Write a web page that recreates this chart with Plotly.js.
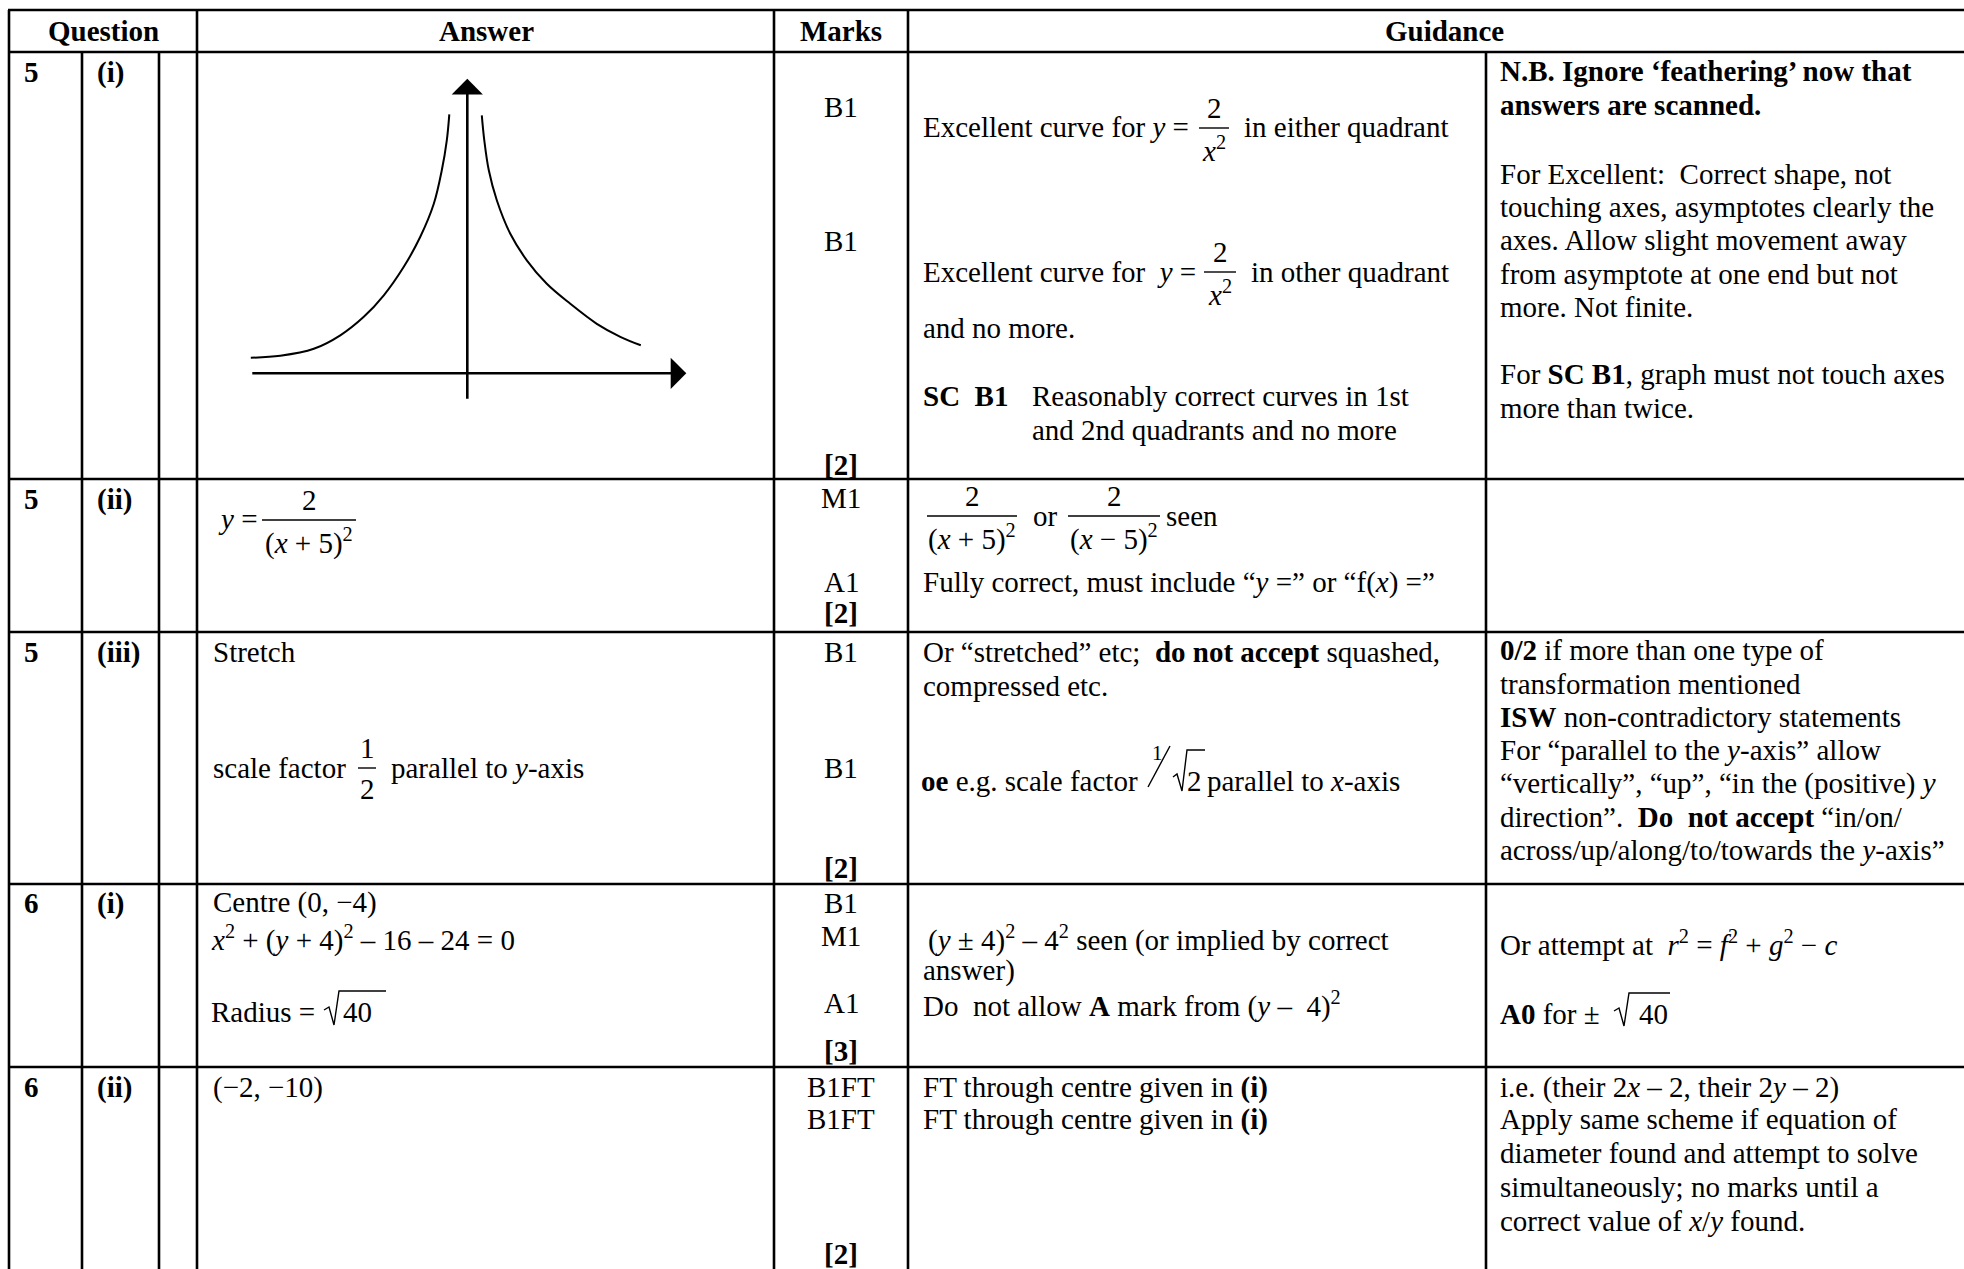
<!DOCTYPE html>
<html>
<head>
<meta charset="utf-8">
<script src="https://cdn.plot.ly/plotly-3.0.1.min.js"></script>
<style>html,body{margin:0;padding:0;background:#fff;}#chart{width:1964px;height:1269px;}</style>
</head>
<body>
<div id="chart"></div>
<script>
// ---------------- DATA ----------------
const headerLabels = ['Question', 'Answer', 'Marks', 'Guidance'];
const questionNums = ['5', '5', '5', '6', '6'];
const partLabels = ['(i)', '(ii)', '(iii)', '(i)', '(ii)'];
const marksByRow = [
  ['B1', 'B1', '[2]'],
  ['M1', 'A1', '[2]'],
  ['B1', 'B1', '[2]'],
  ['B1', 'M1', 'A1', '[3]'],
  ['B1FT', 'B1FT', '[2]']
];
const answerTexts = [
  '<i>y</i> =',
  'Stretch',
  'scale factor',
  'parallel to <i>y</i>-axis',
  'Centre (0, −4)',
  '<i>x</i><sup>2</sup> + (<i>y</i> + 4)<sup>2</sup> – 16 – 24 = 0',
  'Radius =',
  '40',
  '(−2, −10)'
];
const guidanceTexts = [
  'Excellent curve for <i>y</i> =',
  'in either quadrant',
  'Excellent curve for\u00a0 <i>y</i> =',
  'in other quadrant',
  'and no more.',
  '<b>SC\u00a0 B1</b>',
  'Reasonably correct curves in 1st',
  'and 2nd quadrants and no more',
  'or',
  'seen',
  'Fully correct, must include “<i>y</i> =” or “f(<i>x</i>) =”',
  'Or “stretched” etc;\u00a0 <b>do not accept</b> squashed,',
  'compressed etc.',
  '<b>oe</b> e.g. scale factor',
  '2',
  'parallel to <i>x</i>-axis',
  '(<i>y</i> ± 4)<sup>2</sup> – 4<sup>2</sup> seen (or implied by correct',
  'answer)',
  'Do\u00a0 not allow <b>A</b> mark from (<i>y</i> –\u00a0 4)<sup>2</sup>',
  'FT through centre given in <b>(i)</b>',
  'FT through centre given in <b>(i)</b>'
];
const noteTexts = [
  '<b>N.B. Ignore ‘feathering’ now that</b>',
  '<b>answers are scanned.</b>',
  'For Excellent:\u00a0 Correct shape, not',
  'touching axes, asymptotes clearly the',
  'axes. Allow slight movement away',
  'from asymptote at one end but not',
  'more. Not finite.',
  'For <b>SC B1</b>, graph must not touch axes',
  'more than twice.',
  '<b>0/2</b> if more than one type of',
  'transformation mentioned',
  '<b>ISW</b> non-contradictory statements',
  'For “parallel to the <i>y</i>-axis” allow',
  '“vertically”, “up”, “in the (positive) <i>y</i>',
  'direction”.\u00a0 <b>Do\u00a0 not accept</b> “in/on/',
  'across/up/along/to/towards the <i>y</i>-axis”',
  'Or attempt at\u00a0 <i>r</i><sup>2</sup> = <i>f</i><sup>2</sup> + <i>g</i><sup>2</sup> − <i>c</i>',
  '<b>A0</b> for ±',
  '40',
  'i.e. (their 2<i>x</i> – 2, their 2<i>y</i> – 2)',
  'Apply same scheme if equation of',
  'diameter found and attempt to solve',
  'simultaneously; no marks until a',
  'correct value of <i>x</i>/<i>y</i> found.'
];
const fracNums = ['2', '2', '2', '2', '2', '1'];
const fracDens = ['<i>x</i><sup>2</sup>', '<i>x</i><sup>2</sup>', '(<i>x</i> + 5)<sup>2</sup>',
                  '(<i>x</i> + 5)<sup>2</sup>', '(<i>x</i> − 5)<sup>2</sup>', '2'];
const slashNum = '1';

// sketch of y = 2/x^2 (sketch units)
const curveLeftX  = [-4.33, -3.74, -3.07, -2.54, -2.07, -1.67, -1.27, -0.94, -0.67, -0.51, -0.41, -0.36];
const curveLeftY  = [0.31, 0.35, 0.49, 0.76, 1.13, 1.56, 2.13, 2.73, 3.39, 4.06, 4.66, 5.18];
const curveRightX = [0.29, 0.34, 0.43, 0.59, 0.86, 1.19, 1.59, 2.06, 2.59, 3.06, 3.47];
const curveRightY = [5.16, 4.66, 4.06, 3.46, 2.79, 2.26, 1.79, 1.39, 0.99, 0.73, 0.56];
const sketchAxisX = [-4.33, 4.38];
const sketchAxisY = [-0.54, 5.89];

// ---------------- LAYOUT (positions, pixels) ----------------
const W = 1964, H = 1269;
const FONT = 'Liberation Serif, Times New Roman, Times, serif';
const FS = 29;
const colEdges = [9, 82, 159, 197, 774, 908, 1486];
const rowEdges = [10, 52, 479, 632, 884, 1067];
const headerX = [103, 486, 841, 1444];
const headerY = 31;
const qX = 23, partX = 96, marksX = 841;
const rowLabelY = [72, 499, 652, 903, 1087];
const marksY = [[107, 241, 465], [498, 582, 613], [652, 768, 868], [903, 936, 1003, 1051], [1087, 1119, 1254]];
const answerPos = [[217, 519], [212, 652], [212, 768], [390, 768], [212, 902], [210, 938], [210, 1012], [342, 1012], [212, 1087]];
const guidancePos = [[922, 127], [1243, 127], [922, 272], [1250, 272], [922, 328], [922, 396], [1031, 396], [1031, 430],
  [1032, 516], [1165, 516], [922, 582], [922, 652], [922, 686], [920, 781], [1186, 781], [1206, 781],
  [927, 938], [922, 970], [922, 1004], [922, 1087], [922, 1119]];
const noteYs = [71, 105, 174, 207, 240, 274, 307, 374, 408, 650, 684, 717, 750, 783, 817, 850, 943, 1014, 1014, 1087, 1119, 1153, 1187, 1221];
const noteXs = noteYs.map((_, i) => i === 18 ? 1638 : 1499);
const fracPos = [[1214, 128, 15], [1220, 272, 16], [309, 520, 47], [972, 516, 45], [1114, 516, 46], [367, 768, 9]];
const radicalPaths = [
  'M324,1010 L329,1007 L334,1025 L339,991 L386,991',
  'M1614,1011 L1619,1008 L1624,1026 L1629,993 L1670,993',
  'M1173,777 L1177,774 L1182,791 L1187,750 L1205,750'
];
const slashLine = [1148, 787, 1170, 746];
const slashNumPos = [1157, 753];

const shapes = [];
const anns = [];
function hline(x0, x1, y, w) {
  shapes.push({type: 'line', xref: 'x', yref: 'y', x0: x0, x1: x1, y0: y, y1: y, line: {color: '#000', width: w}});
}
function vline(x, y0, y1, w) {
  shapes.push({type: 'line', xref: 'x', yref: 'y', x0: x, x1: x, y0: y0, y1: y1, line: {color: '#000', width: w}});
}
function txt(x, y, text, opt) {
  anns.push(Object.assign({
    x: x, y: y, xref: 'x', yref: 'y', text: text, showarrow: false,
    xanchor: 'left', yanchor: 'middle', borderpad: 0,
    font: {family: FONT, size: FS, color: '#000'}
  }, opt || {}));
}

// table grid
const LW = 2.6;
rowEdges.forEach(y => hline(colEdges[0] - 1, W, y, LW));
vline(colEdges[0], rowEdges[0], H, LW);
vline(colEdges[1], rowEdges[1], H, LW);
vline(colEdges[2], rowEdges[1], H, LW);
vline(colEdges[3], rowEdges[0], H, LW);
vline(colEdges[4], rowEdges[0], H, LW);
vline(colEdges[5], rowEdges[0], H, LW);
vline(colEdges[6], rowEdges[1], H, LW);

// headers
headerLabels.forEach((h, i) => txt(headerX[i], headerY, '<b>' + h + '</b>', {xanchor: 'center'}));
// question numbers & parts
questionNums.forEach((q, i) => {
  txt(qX, rowLabelY[i], '<b>' + q + '</b>');
  txt(partX, rowLabelY[i], '<b>' + partLabels[i] + '</b>');
});
// marks
marksByRow.forEach((row, r) => row.forEach((m, k) => {
  const t = m.charAt(0) === '[' ? '<b>' + m + '</b>' : m;
  txt(marksX, marksY[r][k], t, {xanchor: 'center'});
}));
// answers, guidance, notes
answerTexts.forEach((t, i) => txt(answerPos[i][0], answerPos[i][1], t));
guidanceTexts.forEach((t, i) => txt(guidancePos[i][0], guidancePos[i][1], t));
noteTexts.forEach((t, i) => txt(noteXs[i], noteYs[i], t));
// fractions
fracNums.forEach((n, i) => {
  const [cx, yb, hw] = fracPos[i];
  txt(cx, yb - 20, n, {xanchor: 'center'});
  txt(cx, yb + 21, fracDens[i], {xanchor: 'center'});
  hline(cx - hw, cx + hw, yb, 1.4);
});
// slashed fraction 1/sqrt2
txt(slashNumPos[0], slashNumPos[1], slashNum, {xanchor: 'center', font: {family: FONT, size: 21, color: '#000'}});
shapes.push({type: 'line', xref: 'x', yref: 'y', x0: slashLine[0], y0: slashLine[1], x1: slashLine[2], y1: slashLine[3], line: {color: '#000', width: 1.4}});
// radicals
radicalPaths.forEach(p => shapes.push({type: 'path', xref: 'x', yref: 'y', path: p, line: {color: '#000', width: 1.4}}));

// sketch axes (arrows) on the sketch subplot
function arrow(x, y, ax, ay) {
  anns.push({x: x, y: y, ax: ax, ay: ay, xref: 'x2', yref: 'y2', axref: 'x2', ayref: 'y2',
    text: '', showarrow: true, arrowhead: 1, arrowsize: 2, arrowwidth: 2.6, arrowcolor: '#000', standoff: 0});
}
arrow(sketchAxisX[1], 0, sketchAxisX[0], 0);
arrow(0, sketchAxisY[1], 0, sketchAxisY[0]);

const sketchX0 = 197, sketchX1 = 774, sketchY0 = 52, sketchY1 = 479;
const originPx = [467.3, 373.3], unit = 50;

const traces = [
  {x: [], y: [], xaxis: 'x', yaxis: 'y', type: 'scatter', mode: 'lines', hoverinfo: 'skip', showlegend: false},
  {x: curveLeftX, y: curveLeftY, xaxis: 'x2', yaxis: 'y2', type: 'scatter', mode: 'lines',
   line: {color: '#000', width: 2, shape: 'spline', smoothing: 1}, hoverinfo: 'skip', showlegend: false},
  {x: curveRightX, y: curveRightY, xaxis: 'x2', yaxis: 'y2', type: 'scatter', mode: 'lines',
   line: {color: '#000', width: 2, shape: 'spline', smoothing: 1}, hoverinfo: 'skip', showlegend: false}
];

const layout = {
  width: W, height: H,
  margin: {l: 0, r: 0, t: 0, b: 0, pad: 0},
  paper_bgcolor: '#fff', plot_bgcolor: 'rgba(0,0,0,0)',
  showlegend: false,
  font: {family: FONT, size: FS, color: '#000'},
  xaxis: {range: [0, W], visible: false, domain: [0, 1], fixedrange: true},
  yaxis: {range: [H, 0], visible: false, domain: [0, 1], fixedrange: true},
  xaxis2: {domain: [sketchX0 / W, sketchX1 / W], anchor: 'y2', visible: false,
           range: [(sketchX0 - originPx[0]) / unit, (sketchX1 - originPx[0]) / unit]},
  yaxis2: {domain: [1 - sketchY1 / H, 1 - sketchY0 / H], anchor: 'x2', visible: false,
           range: [(originPx[1] - sketchY1) / unit, (originPx[1] - sketchY0) / unit]},
  shapes: shapes,
  annotations: anns
};

Plotly.newPlot('chart', traces, layout, {staticPlot: true, displayModeBar: false});
</script>
</body>
</html>
